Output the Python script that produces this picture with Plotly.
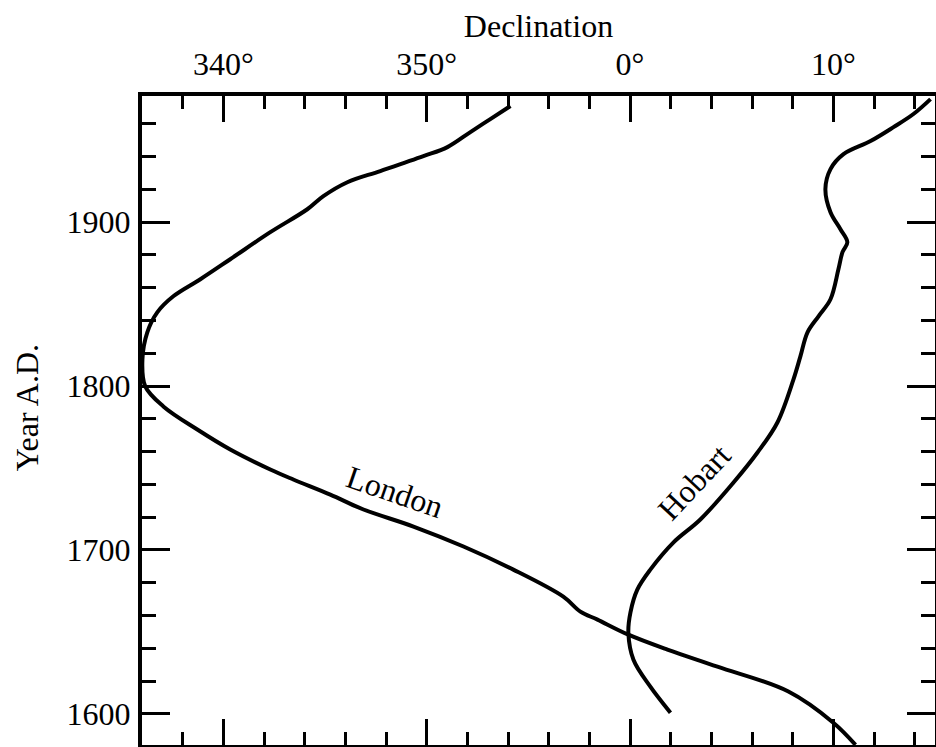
import plotly.graph_objects as go

# Declination in degrees on a continuous scale (360 = 0°, 370 = 10°E)
london_decl = [371.09, 370.0, 367.79, 364.30, 361.84, 359.92, 358.40, 357.56,
               356.72, 354.26, 351.81, 349.35, 346.89, 345.26, 343.44, 342.31, 340.34,
               338.72, 337.05, 336.16, 336.02, 336.26, 336.75, 337.54, 338.87, 340.34,
               342.31, 344.13, 344.92, 346.10, 347.72, 349.84, 351.02, 352.15, 353.13,
               354.12]
london_year = [1581.1, 1594.6, 1613.6, 1628.8, 1639.2, 1648.3, 1657.5, 1662.4,
               1671.5, 1688.0, 1702.1, 1714.3, 1724.7, 1733.8, 1743.0, 1749.1, 1761.3,
               1773.5, 1787.6, 1799.8, 1816.3, 1832.8, 1845.0, 1854.8, 1865.2, 1877.4,
               1893.9, 1907.9, 1915.9, 1924.4, 1931.2, 1940.3, 1945.8, 1955.0, 1962.9,
               1970.9]

hobart_decl = [361.99, 361.00, 360.17, 359.92, 360.02, 360.36, 361.00, 362.13, 363.46,
               365.09, 366.27, 367.25, 368.04, 368.38, 368.73, 369.27, 369.86, 370.25,
               370.45, 370.69, 370.35, 369.86, 369.61, 369.86, 370.50, 371.83, 372.96,
               373.94, 374.78]
hobart_year = [1600.7, 1616.6, 1633.0, 1649.5, 1661.8, 1675.8, 1688.0, 1704.5, 1718.6,
               1741.2, 1759.5, 1777.8, 1804.1, 1818.1, 1832.8, 1842.6, 1853.0, 1871.3,
               1881.7, 1887.8, 1895.7, 1906.1, 1920.2, 1932.4, 1941.5, 1949.5, 1958.0,
               1966.0, 1975.1]

x_tickvals = [340, 350, 360, 370]
x_ticktext = ["340°", "350°", "0°", "10°"]
y_tickvals = [1600, 1700, 1800, 1900]
y_ticktext = ["1600", "1700", "1800", "1900"]

FONT = "Liberation Serif"
INK = "black"

fig = go.Figure()
for xs, ys in [(london_decl, london_year), (hobart_decl, hobart_year)]:
    fig.add_trace(go.Scatter(
        x=xs, y=ys, mode="lines",
        line=dict(color=INK, width=4, shape="spline", smoothing=1.0),
        showlegend=False, hoverinfo="skip",
    ))

# curve labels set along each line
fig.add_annotation(x=348.46, y=1735.1, text="London", showarrow=False,
                   textangle=19, font=dict(family=FONT, size=32, color=INK))
fig.add_annotation(x=363.17, y=1741.2, text="Hobart", showarrow=False,
                   textangle=-47, font=dict(family=FONT, size=32, color=INK))

# vertical axis title, placed left of the tick labels
fig.add_annotation(x=0, xref="paper", xanchor="center", xshift=-115,
                   y=1786.4, yref="y", yanchor="middle",
                   text="Year A.D.", textangle=-90, showarrow=False,
                   font=dict(family=FONT, size=32, color=INK))

axis_common = dict(
    showline=True, linecolor=INK, linewidth=4,
    mirror="allticks", ticks="inside", tickcolor=INK, tickwidth=3,
    showgrid=False, zeroline=False,
    tickfont=dict(family=FONT, size=32, color=INK),
)

fig.update_xaxes(
    range=[336, 375], side="top",
    tickmode="array", tickvals=x_tickvals, ticktext=x_ticktext, ticklen=26,
    minor=dict(tickmode="linear", tick0=0, dtick=2, ticks="inside",
               ticklen=13, tickwidth=3, tickcolor=INK, showgrid=False),
    ticklabelstandoff=4,
    title=dict(text="Declination", font=dict(family=FONT, size=32, color=INK),
               standoff=0),
    **axis_common,
)
fig.update_yaxes(
    range=[1581, 1977],
    tickmode="array", tickvals=y_tickvals, ticktext=y_ticktext, ticklen=28,
    minor=dict(tickmode="linear", tick0=0, dtick=20, ticks="inside",
               ticklen=14, tickwidth=3, tickcolor=INK, showgrid=False),
    ticklabelstandoff=1,
    **axis_common,
)

fig.update_layout(
    width=936, height=747,
    margin=dict(l=142, r=1, t=96, b=2, autoexpand=False),
    paper_bgcolor="white", plot_bgcolor="white",
)

fig.write_html("out.html")
